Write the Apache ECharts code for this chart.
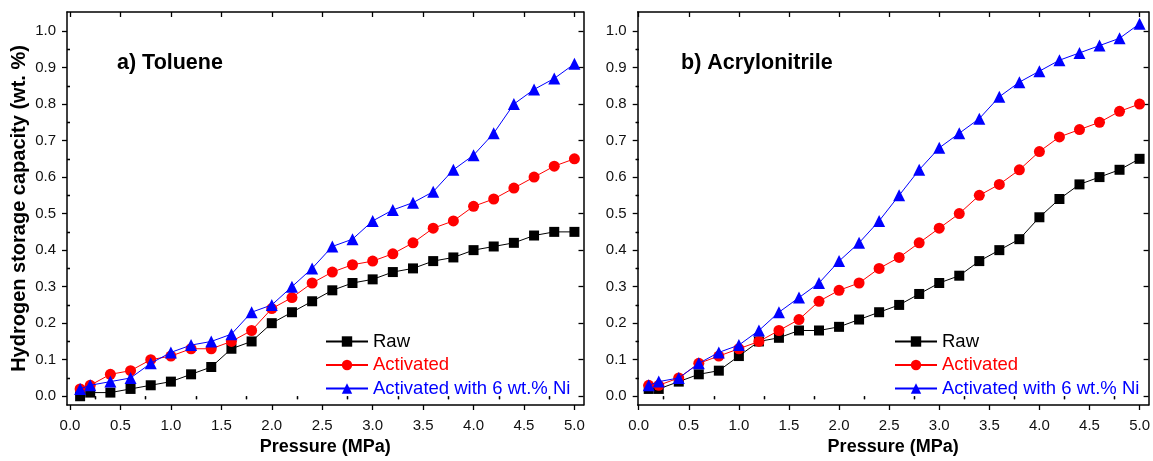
<!DOCTYPE html>
<html>
<head>
<meta charset="utf-8">
<script src="https://cdn.jsdelivr.net/npm/echarts@6/dist/echarts.min.js"></script>
<style>
html,body{margin:0;padding:0;background:#fff;}
#c{width:1153px;height:461px;}
</style>
</head>
<body>
<div id="c"></div>
<script>
// ---- data ----
var pressure = [0.1,0.2,0.4,0.6,0.8,1.0,1.2,1.4,1.6,1.8,2.0,2.2,2.4,2.6,2.8,3.0,3.2,3.4,3.6,3.8,4.0,4.2,4.4,4.6,4.8,5.0];
var seriesNames = ['Raw','Activated','Activated with 6 wt.% Ni'];
var panelTitles = ['a) Toluene','b) Acrylonitrile'];
var toluRaw = [0.00,0.01,0.01,0.02,0.03,0.04,0.06,0.08,0.13,0.15,0.20,0.23,0.26,0.29,0.31,0.32,0.34,0.35,0.37,0.38,0.40,0.41,0.42,0.44,0.45,0.45];
var toluAct = [0.02,0.03,0.06,0.07,0.10,0.11,0.13,0.13,0.15,0.18,0.24,0.27,0.31,0.34,0.36,0.37,0.39,0.42,0.46,0.48,0.52,0.54,0.57,0.60,0.63,0.65];
var toluNi  = [0.02,0.03,0.04,0.05,0.09,0.12,0.14,0.15,0.17,0.23,0.25,0.30,0.35,0.41,0.43,0.48,0.51,0.53,0.56,0.62,0.66,0.72,0.80,0.84,0.87,0.91];
var acryRaw = [0.02,0.02,0.04,0.06,0.07,0.11,0.15,0.16,0.18,0.18,0.19,0.21,0.23,0.25,0.28,0.31,0.33,0.37,0.40,0.43,0.49,0.54,0.58,0.60,0.62,0.65];
var acryAct = [0.03,0.03,0.05,0.09,0.11,0.13,0.15,0.18,0.21,0.26,0.29,0.31,0.35,0.38,0.42,0.46,0.50,0.55,0.58,0.62,0.67,0.71,0.73,0.75,0.78,0.80];
var acryNi  = [0.03,0.04,0.05,0.09,0.12,0.14,0.18,0.23,0.27,0.31,0.37,0.42,0.48,0.55,0.62,0.68,0.72,0.76,0.82,0.86,0.89,0.92,0.94,0.96,0.98,1.02];
var xMajorTicks = [0,0.5,1.0,1.5,2.0,2.5,3.0,3.5,4.0,4.5,5.0];
var xMinorTicks = [0.25,0.75,1.25,1.75,2.25,2.75,3.25,3.75,4.25,4.75];
var yMajorTicks = [0,0.1,0.2,0.3,0.4,0.5,0.6,0.7,0.8,0.9,1.0];
var yMinorTicks = [0.05,0.15,0.25,0.35,0.45,0.55,0.65,0.75,0.85,0.95];
var xAxisName = 'Pressure (MPa)';
var yAxisName = 'Hydrogen storage capacity (wt. %)';

// ---- styling ----
var FONT = "'Liberation Sans', Arial, sans-serif";
var colors = ['#000000','#ff0000','#0000ff'];
var symbols = ['rect','circle','triangle'];
var symSizes = [10,11,12];
var panels = [
  {grid:{left:67, right:569.5, top:12, bottom:51.6}, xmin:-0.03, xmax:5.09, data:[toluRaw,toluAct,toluNi], legendLeft:325, titleLeft:112, yName:true},
  {grid:{left:637.7, right:1.3, top:12, bottom:51.6}, xmin:-0.01, xmax:5.09, data:[acryRaw,acryAct,acryNi], legendLeft:894, titleLeft:676, yName:false}
];
var YMIN = -0.024, YMAX = 1.052;
var lineStyle = {color:'#000', width:1.5};

function pair(xs, ys){ return xs.map(function(x,i){ return [x, ys[i]]; }); }

var option = {
  animation:false,
  backgroundColor:'#fff',
  grid:[], xAxis:[], yAxis:[], series:[], legend:[], title:[]
};

panels.forEach(function(p, pi){
  option.grid.push(p.grid);
  var base = option.xAxis.length;
  option.xAxis.push({
    type:'value', gridIndex:pi, min:p.xmin, max:p.xmax, position:'bottom',
    axisLine:{show:true, onZero:false, lineStyle:lineStyle},
    axisTick:{show:true, inside:false, length:5, customValues:xMajorTicks, lineStyle:{color:'#000', width:1.3}},
    axisLabel:{show:true, customValues:xMajorTicks, margin:13, fontSize:15, color:'#111', fontFamily:FONT,
      formatter:function(v){ return v.toFixed(1); }},
    splitLine:{show:false},
    name:xAxisName, nameLocation:'middle', nameGap:33,
    nameTextStyle:{fontSize:18, fontWeight:'bold', color:'#000', fontFamily:FONT}
  });
  option.xAxis.push({
    type:'value', gridIndex:pi, min:p.xmin, max:p.xmax, position:'top',
    axisLine:{show:true, onZero:false, lineStyle:lineStyle},
    axisTick:{show:true, inside:true, length:5, customValues:xMajorTicks, lineStyle:{color:'#000', width:1.3}},
    axisLabel:{show:false}, splitLine:{show:false}
  });
  option.xAxis.push({
    type:'value', gridIndex:pi, min:p.xmin, max:p.xmax, position:'bottom',
    axisLine:{show:false},
    axisTick:{show:true, inside:false, length:3, customValues:xMinorTicks, lineStyle:{color:'#000', width:1.3}},
    axisLabel:{show:false}, splitLine:{show:false}
  });
  option.xAxis.push({
    type:'value', gridIndex:pi, min:p.xmin, max:p.xmax, position:'top',
    axisLine:{show:false},
    axisTick:{show:true, inside:true, length:3, customValues:xMinorTicks, lineStyle:{color:'#000', width:1.3}},
    axisLabel:{show:false}, splitLine:{show:false}
  });

  option.yAxis.push({
    type:'value', gridIndex:pi, min:YMIN, max:YMAX, position:'left',
    axisLine:{show:true, onZero:false, lineStyle:lineStyle},
    axisTick:{show:true, inside:false, length:5, customValues:yMajorTicks, lineStyle:{color:'#000', width:1.3}},
    axisLabel:{show:true, customValues:yMajorTicks, margin:11, fontSize:15, color:'#111', fontFamily:FONT,
      formatter:function(v){ return v.toFixed(1); }},
    splitLine:{show:false},
    name: p.yName ? yAxisName : '', nameLocation:'middle', nameGap:38,
    nameTextStyle:{fontSize:20, fontWeight:'bold', color:'#000', fontFamily:FONT}
  });
  option.yAxis.push({
    type:'value', gridIndex:pi, min:YMIN, max:YMAX, position:'right',
    axisLine:{show:true, onZero:false, lineStyle:lineStyle},
    axisTick:{show:true, inside:true, length:5, customValues:yMajorTicks, lineStyle:{color:'#000', width:1.3}},
    axisLabel:{show:false}, splitLine:{show:false}
  });
  option.yAxis.push({
    type:'value', gridIndex:pi, min:YMIN, max:YMAX, position:'left',
    axisLine:{show:false},
    axisTick:{show:true, inside:false, length:3, customValues:yMinorTicks, lineStyle:{color:'#000', width:1.3}},
    axisLabel:{show:false}, splitLine:{show:false}
  });
  option.yAxis.push({
    type:'value', gridIndex:pi, min:YMIN, max:YMAX, position:'right',
    axisLine:{show:false},
    axisTick:{show:true, inside:true, length:3, customValues:yMinorTicks, lineStyle:{color:'#000', width:1.3}},
    axisLabel:{show:false}, splitLine:{show:false}
  });

  p.data.forEach(function(ys, si){
    option.series.push({
      type:'line', name:seriesNames[si], xAxisIndex:base, yAxisIndex:base,
      data:pair(pressure, ys),
      symbol:symbols[si], symbolSize:symSizes[si], showSymbol:true,
      itemStyle:{color:colors[si], borderWidth:0},
      lineStyle:{color:colors[si], width:1},
      z: 2 + si
    });
  });

  option.legend.push({
    orient:'vertical', left:p.legendLeft, top:331.5,
    padding:0,
    itemWidth:42, itemHeight:13, itemGap:3.5,
    selectedMode:false,
    textStyle:{fontSize:18.5, fontFamily:FONT, lineHeight:20},
    data: seriesNames.map(function(n, si){ return {name:n, textStyle:{color:colors[si]}}; })
  });

  option.title.push({
    text:panelTitles[pi], left:p.titleLeft, top:47,
    textStyle:{fontSize:21.5, fontWeight:'bold', color:'#000', fontFamily:FONT}
  });
});

var chart = echarts.init(document.getElementById('c'), null, {renderer:'canvas'});
chart.setOption(option);
</script>
</body>
</html>
